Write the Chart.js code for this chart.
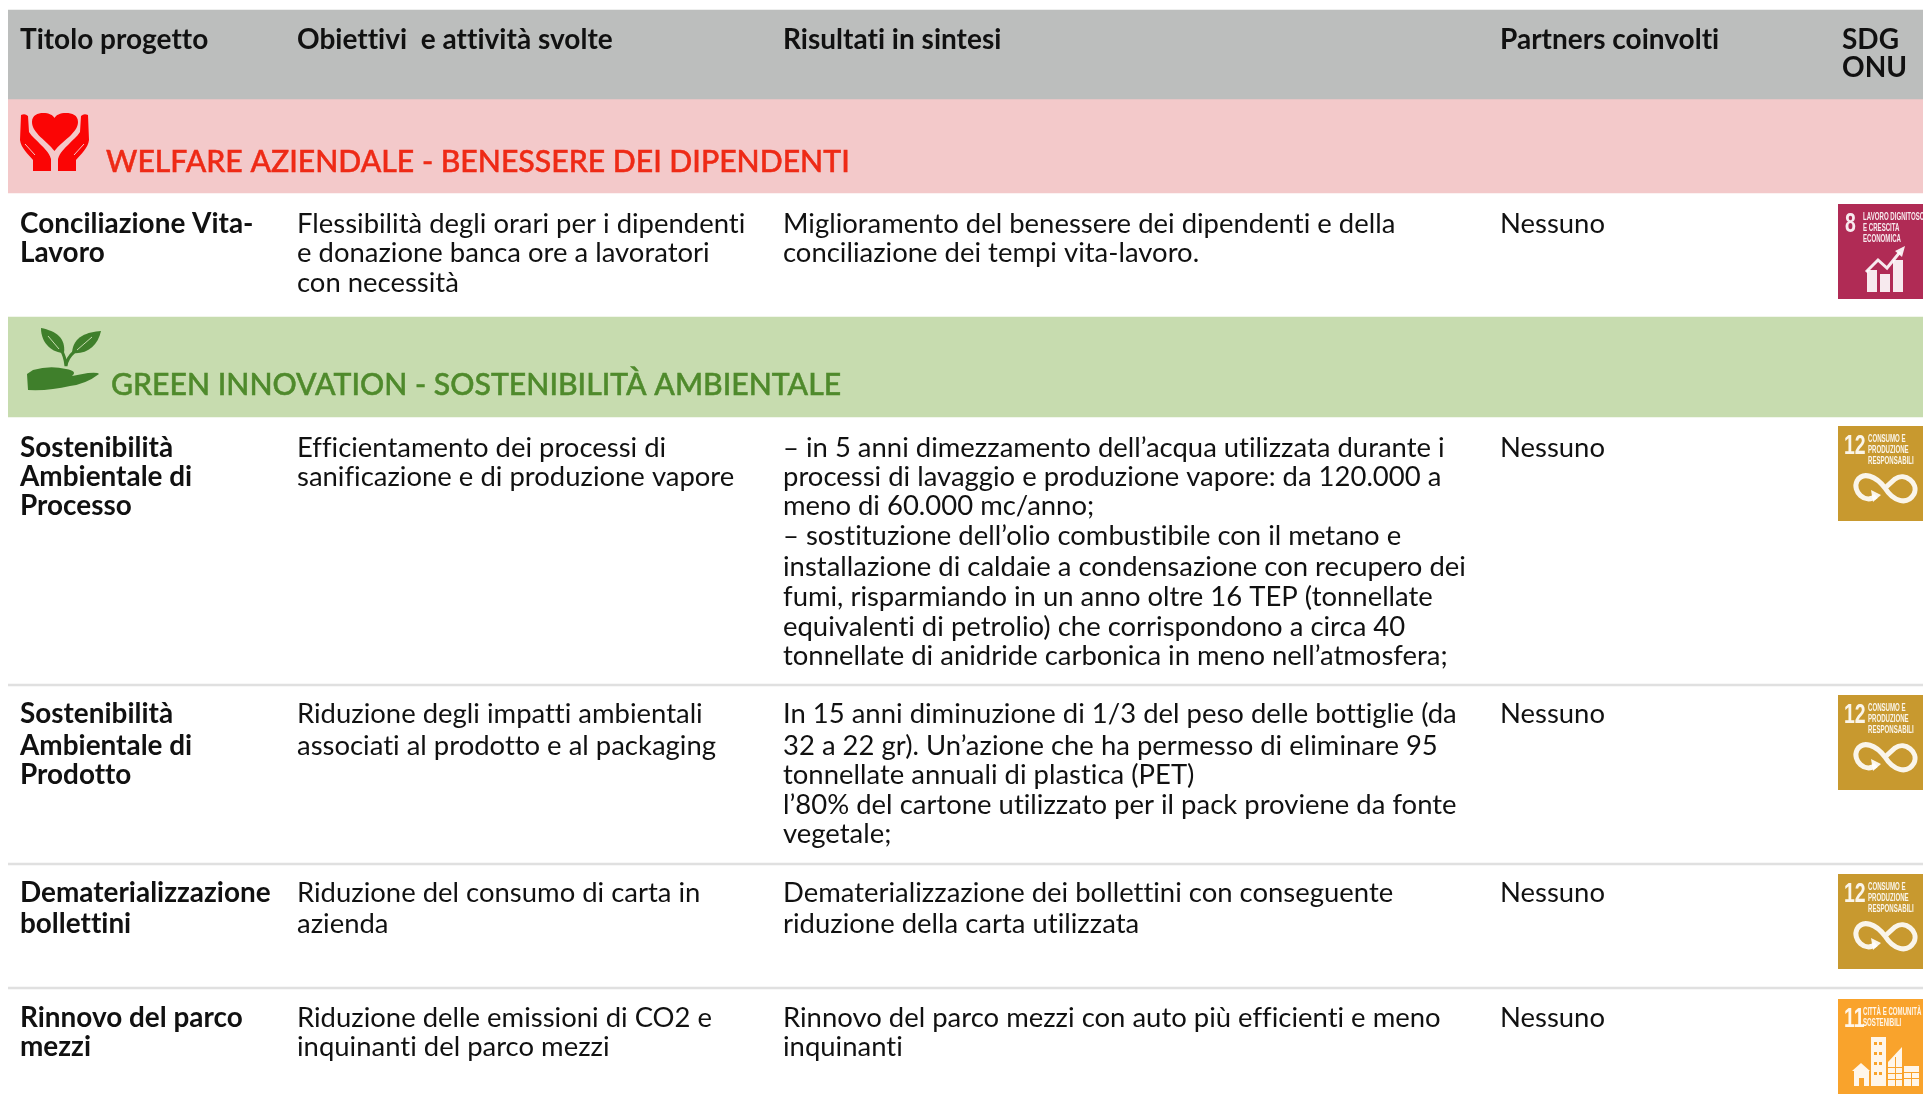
<!DOCTYPE html>
<html lang="it">
<head>
<meta charset="utf-8">
<title>Progetti di sostenibilità</title>
<script src="https://cdn.jsdelivr.net/npm/chart.js@4"></script>
<style>
  html, body { margin: 0; padding: 0; background: #fff; overflow: hidden; }
  canvas { display: block; }
</style>
</head>
<body>
<canvas id="chart" width="1923" height="1104"></canvas>
<script>
// bande orizzontali della tabella (in pixel della pagina, asse y rovesciato)
const bandNames = ["header", "welfare", "green", "sep1", "sep2", "sep3"];
const bandTop = [10, 99, 317, 684, 863, 987];
const bandBottom = [99, 193, 417, 686, 865, 989];

// testi
const headers = ["Titolo progetto", "Obiettivi  e attività svolte", "Risultati in sintesi", "Partners coinvolti"];
const sdgHeader = ["SDG", "ONU"];
const welfareTitle = "WELFARE AZIENDALE - BENESSERE DEI DIPENDENTI";
const greenTitle = "GREEN INNOVATION - SOSTENIBILITÀ AMBIENTALE";

const titoli = [
  ["Conciliazione Vita-", "Lavoro"],
  ["Sostenibilità", "Ambientale di", "Processo"],
  ["Sostenibilità", "Ambientale di", "Prodotto"],
  ["Dematerializzazione", "bollettini"],
  ["Rinnovo del parco", "mezzi"],
];
const obiettivi = [
  ["Flessibilità degli orari per i dipendenti", "e donazione banca ore a lavoratori", "con necessità"],
  ["Efficientamento dei processi di", "sanificazione e di produzione vapore"],
  ["Riduzione degli impatti ambientali", "associati al prodotto e al packaging"],
  ["Riduzione del consumo di carta in", "azienda"],
  ["Riduzione delle emissioni di CO2 e", "inquinanti del parco mezzi"],
];
const risultati = [
  ["Miglioramento del benessere dei dipendenti e della", "conciliazione dei tempi vita-lavoro."],
  [
    "– in 5 anni dimezzamento dell’acqua utilizzata durante i",
    "processi di lavaggio e produzione vapore: da 120.000 a",
    "meno di 60.000 mc/anno;",
    "– sostituzione dell’olio combustibile con il metano e",
    "installazione di caldaie a condensazione con recupero dei",
    "fumi, risparmiando in un anno oltre 16 TEP (tonnellate",
    "equivalenti di petrolio) che corrispondono a circa 40",
    "tonnellate di anidride carbonica in meno nell’atmosfera;",
  ],
  [
    "In 15 anni diminuzione di 1/3 del peso delle bottiglie (da",
    "32 a 22 gr). Un’azione che ha permesso di eliminare 95",
    "tonnellate annuali di plastica (PET)",
    "l’80% del cartone utilizzato per il pack proviene da fonte",
    "vegetale;",
  ],
  ["Dematerializzazione dei bollettini con conseguente", "riduzione della carta utilizzata"],
  ["Rinnovo del parco mezzi con auto più efficienti e meno", "inquinanti"],
];
const partners = ["Nessuno", "Nessuno", "Nessuno", "Nessuno", "Nessuno"];
const sdgGoals = [8, 12, 12, 12, 11];

// linee di base del testo, riga per riga
const rowBaselines = [
  [233, 262, 292],
  [457, 486, 515, 545, 576, 606, 636, 665],
  [723, 755, 784, 814, 843],
  [902, 933],
  [1027, 1056],
];
const tileTops = [204, 426, 695, 874, 999];
const colX = [20, 297, 783, 1500];

const bandColors = {
  header: "#bcbebd", welfare: "#f3c9ca", green: "#c7dcaf",
  sep1: "#e0e0e0", sep2: "#e0e0e0", sep3: "#e0e0e0",
};
const goalColors = { 8: "#b02b55", 12: "#c8992f", 11: "#f9a32c" };
const goalLabels = {
  8: ["LAVORO DIGNITOSO", "E CRESCITA", "ECONOMICA"],
  12: ["CONSUMO E", "PRODUZIONE", "RESPONSABILI"],
  11: ["CITTÀ E COMUNITÀ", "SOSTENIBILI"],
};

const FONT = "Lato, 'Open Sans', sans-serif";

function heartHands(ctx, x, y) {
  ctx.save();
  ctx.translate(x, y);
  ctx.fillStyle = "#fb0505";
  // cuore
  ctx.beginPath();
  ctx.moveTo(34.5, 38);
  ctx.bezierCurveTo(27, 28, 12, 20, 12, 9);
  ctx.bezierCurveTo(12, 2, 18, 0, 23, 0);
  ctx.bezierCurveTo(29, 0, 33, 2, 34.5, 5);
  ctx.bezierCurveTo(36, 2, 40, 0, 46, 0);
  ctx.bezierCurveTo(52, 0, 58, 2, 58, 9);
  ctx.bezierCurveTo(58, 20, 42, 28, 34.5, 38);
  ctx.fill();
  // mani
  for (const flip of [false, true]) {
    ctx.save();
    if (flip) { ctx.translate(69, 0); ctx.scale(-1, 1); }
    ctx.beginPath();
    ctx.moveTo(1, 2);
    ctx.quadraticCurveTo(5, 0, 8, 3);
    ctx.lineTo(9, 19);
    ctx.bezierCurveTo(12, 24, 17, 27, 20, 31);
    ctx.bezierCurveTo(24, 35, 29, 39, 31, 46);
    ctx.lineTo(31, 58);
    ctx.lineTo(13, 58);
    ctx.lineTo(13, 47);
    ctx.bezierCurveTo(8, 41, 1, 35, 0, 27);
    ctx.closePath();
    ctx.fill();
    // piega delle dita
    ctx.strokeStyle = "#f3c9ca";
    ctx.lineWidth = 1;
    ctx.beginPath();
    ctx.moveTo(5, 31);
    ctx.lineTo(15, 42);
    ctx.stroke();
    ctx.restore();
  }
  ctx.restore();
}

function plantHand(ctx, x, y) {
  ctx.save();
  ctx.translate(x, y);
  ctx.fillStyle = "#3f7f2b";
  ctx.strokeStyle = "#3f7f2b";
  // foglie
  ctx.beginPath();
  ctx.moveTo(15, 0);
  ctx.bezierCurveTo(30, 3, 40, 10, 38, 25);
  ctx.bezierCurveTo(27, 25, 15, 16, 15, 0);
  ctx.fill();
  ctx.beginPath();
  ctx.moveTo(75, 3);
  ctx.bezierCurveTo(62, 4, 47, 8, 46, 25);
  ctx.bezierCurveTo(60, 27, 72, 18, 75, 3);
  ctx.fill();
  // stelo
  ctx.lineWidth = 3;
  ctx.beginPath();
  ctx.moveTo(35, 22);
  ctx.quadraticCurveTo(39, 28, 40, 38);
  ctx.moveTo(48, 24);
  ctx.quadraticCurveTo(41, 30, 40, 38);
  ctx.stroke();
  // venature
  ctx.strokeStyle = "#c7dcaf";
  ctx.lineWidth = 1;
  ctx.beginPath();
  ctx.moveTo(22, 8);
  ctx.lineTo(33, 21);
  ctx.moveTo(66, 9);
  ctx.lineTo(51, 22);
  ctx.stroke();
  // mano
  ctx.beginPath();
  ctx.moveTo(7, 42);
  ctx.quadraticCurveTo(24, 37, 40, 41);
  ctx.quadraticCurveTo(52, 43, 46, 48);
  ctx.lineTo(62, 45);
  ctx.quadraticCurveTo(72, 44, 73, 46);
  ctx.quadraticCurveTo(60, 56, 44, 58);
  ctx.quadraticCurveTo(24, 63, 2, 62);
  ctx.lineTo(1, 46);
  ctx.closePath();
  ctx.fill();
  ctx.restore();
}

function narrowText(ctx, text, x, y, sx, size) {
  ctx.save();
  ctx.translate(x, y);
  ctx.scale(sx, 1);
  ctx.font = `bold ${size}px 'Liberation Sans', sans-serif`;
  ctx.fillText(text, 0, 0);
  ctx.restore();
}

function sdgTile(ctx, goal, x, y) {
  const w = 85, h = 95;
  ctx.save();
  ctx.beginPath();
  ctx.rect(x, y, w, h);
  ctx.clip();
  ctx.fillStyle = goalColors[goal];
  ctx.fillRect(x, y, w, h);
  ctx.translate(x, y);
  ctx.fillStyle = "rgba(255,255,255,0.9)";
  ctx.strokeStyle = "rgba(255,255,255,0.9)";
  ctx.filter = "blur(0.6px)";

  narrowText(ctx, String(goal), goal === 8 ? 7 : 6, 28, 0.72, 27);
  const labelX = goal === 12 ? 30 : 25;
  goalLabels[goal].forEach((t, i) => narrowText(ctx, t, labelX, 16 + i * 11, goal === 12 ? 0.58 : 0.58, 10.5));

  if (goal === 8) {
    // grafico in crescita
    for (const [bx, bt] of [[29, 66], [42, 70], [55, 56]]) ctx.fillRect(bx, bt, 10, 88 - bt);
    ctx.lineWidth = 3;
    ctx.beginPath();
    ctx.moveTo(28, 68);
    ctx.lineTo(40, 56);
    ctx.lineTo(49, 64);
    ctx.lineTo(62, 48);
    ctx.stroke();
    ctx.beginPath();
    ctx.moveTo(67, 42);
    ctx.lineTo(64, 53);
    ctx.lineTo(57, 47);
    ctx.fill();
  } else if (goal === 12) {
    // simbolo infinito
    ctx.translate(5, -5);
    ctx.lineWidth = 5;
    ctx.beginPath();
    ctx.moveTo(42, 67);
    ctx.bezierCurveTo(33, 55, 20, 50, 14, 60);
    ctx.bezierCurveTo(9, 70, 22, 84, 33, 75);
    ctx.moveTo(42, 67);
    ctx.bezierCurveTo(50, 80, 64, 85, 71, 73);
    ctx.bezierCurveTo(76, 62, 62, 51, 52, 58);
    ctx.lineTo(42, 67);
    ctx.stroke();
    ctx.beginPath();
    ctx.moveTo(28, 69);
    ctx.lineTo(38, 74);
    ctx.lineTo(30, 81);
    ctx.fill();
  } else {
    // edifici
    ctx.fillRect(33, 38, 15, 49);
    ctx.fillRect(16, 72, 15, 15);
    ctx.beginPath();
    ctx.moveTo(14, 72);
    ctx.lineTo(23, 64);
    ctx.lineTo(32, 72);
    ctx.fill();
    ctx.beginPath();
    ctx.moveTo(50, 87);
    ctx.lineTo(50, 63);
    ctx.lineTo(64, 48);
    ctx.lineTo(64, 87);
    ctx.fill();
    ctx.fillRect(66, 67, 15, 20);
    ctx.fillStyle = goalColors[goal];
    for (let r = 0; r < 4; r++) for (let c = 0; c < 2; c++) ctx.fillRect(36 + c * 5, 43 + r * 10, 3, 3);
    ctx.fillRect(21, 79, 5, 8);
    for (let r = 0; r < 3; r++) ctx.fillRect(50, 68 + r * 6, 14, 1);
    ctx.fillRect(57, 58, 1, 29);
    ctx.fillRect(66, 73, 15, 1);
    ctx.fillRect(66, 79, 15, 1);
    ctx.fillRect(73, 73, 1, 14);
  }
  ctx.restore();
}

// testi, icone e riquadri SDG sopra le bande
const tablePlugin = {
  id: "tablePlugin",
  afterDatasetsDraw(chart) {
    const { ctx, scales } = chart;
    const px = (v) => scales.xText.getPixelForValue(v);
    const py = (v) => scales.y.getPixelForValue(v);

    ctx.save();
    ctx.textBaseline = "alphabetic";
    ctx.textAlign = "left";
    ctx.letterSpacing = "0.01px"; // niente legature tipo "tt"

    ctx.fillStyle = "#111";
    ctx.font = `bold 28px ${FONT}`;
    headers.forEach((t, i) => ctx.fillText(t, px(colX[i]), py(49)));
    sdgHeader.forEach((t, i) => ctx.fillText(t, px(1842), py(49 + i * 28)));

    ctx.font = `500 30.2px ${FONT}`;
    ctx.lineWidth = 0.5;
    ctx.fillStyle = ctx.strokeStyle = "#ee2a16";
    ctx.fillText(welfareTitle, px(106), py(172));
    ctx.strokeText(welfareTitle, px(106), py(172));
    ctx.fillStyle = ctx.strokeStyle = "#4f8a2c";
    ctx.fillText(greenTitle, px(111), py(395));
    ctx.strokeText(greenTitle, px(111), py(395));

    ctx.fillStyle = "#111";
    titoli.forEach((lines, r) => {
      ctx.font = `bold 27.9px ${FONT}`;
      lines.forEach((t, i) => ctx.fillText(t, px(colX[0]), py(rowBaselines[r][i])));
      ctx.font = `400 27.45px ${FONT}`;
      obiettivi[r].forEach((t, i) => ctx.fillText(t, px(colX[1]), py(rowBaselines[r][i])));
      risultati[r].forEach((t, i) => ctx.fillText(t, px(colX[2]), py(rowBaselines[r][i])));
      ctx.fillText(partners[r], px(colX[3]), py(rowBaselines[r][0]));
    });

    heartHands(ctx, px(20), py(113));
    plantHand(ctx, px(26), py(328));
    sdgGoals.forEach((g, r) => sdgTile(ctx, g, px(1838), py(tileTops[r])));
    ctx.restore();
  },
};

new Chart(document.getElementById("chart"), {
  type: "bar",
  data: {
    labels: ["tabella"],
    datasets: bandNames.map((name, i) => ({
      label: name,
      data: [[bandTop[i], bandBottom[i]]],
      backgroundColor: bandColors[name],
      borderWidth: 0,
      grouped: false,
      barPercentage: 1,
      categoryPercentage: 1,
    })),
  },
  options: {
    responsive: false,
    animation: false,
    layout: { padding: { left: 8 } },
    plugins: { legend: { display: false }, tooltip: { enabled: false }, title: { display: false } },
    scales: {
      x: { display: false },
      xText: { type: "linear", display: false, position: "bottom", offset: false, min: 8, max: 1923 },
      y: { display: false, reverse: true, min: 0, max: 1104 },
    },
  },
  plugins: [tablePlugin],
});
</script>
</body>
</html>
